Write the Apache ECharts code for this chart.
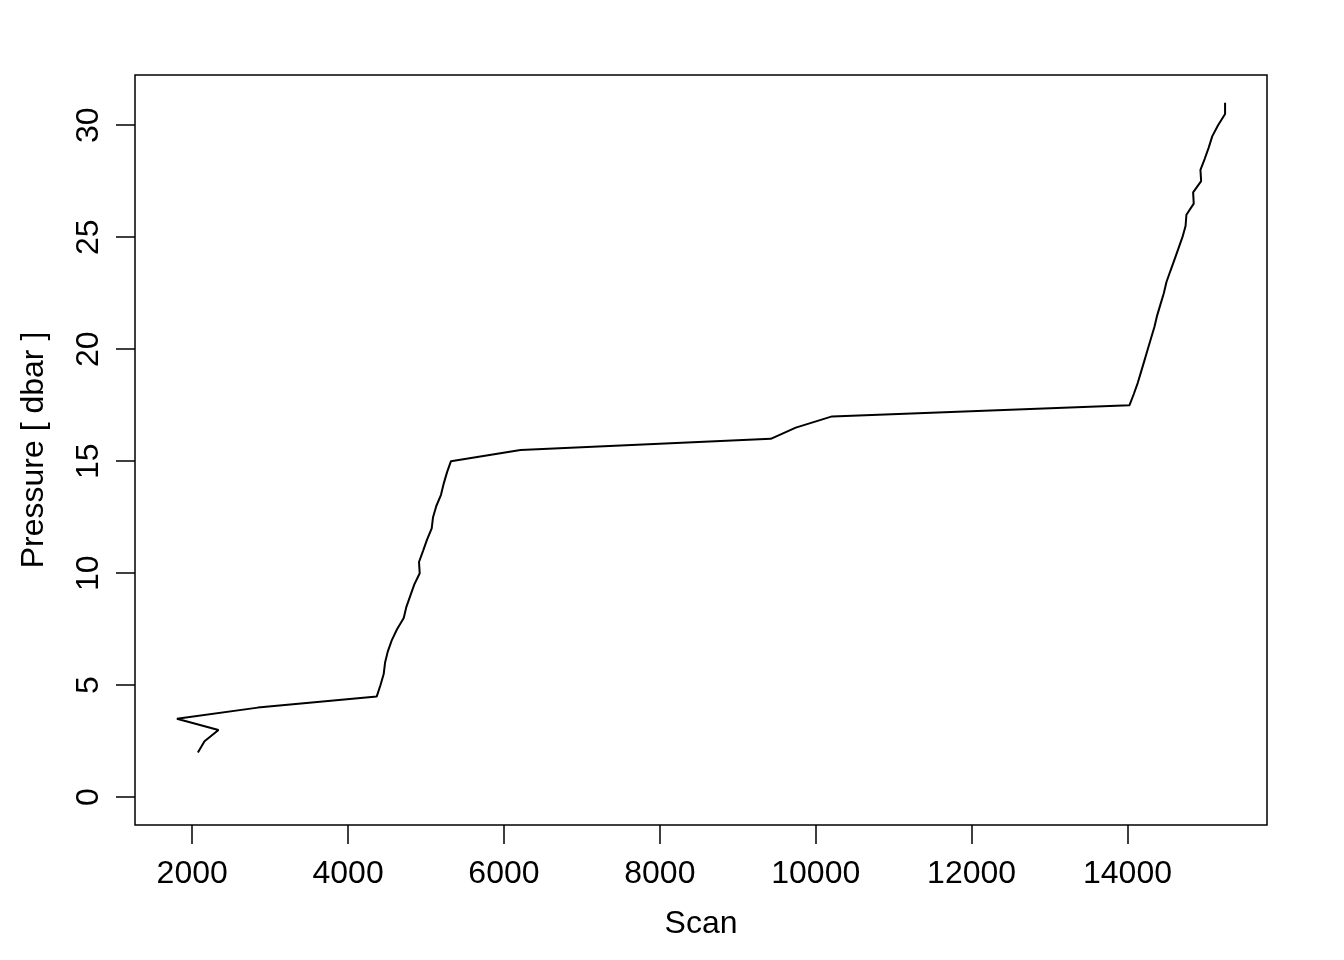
<!DOCTYPE html>
<html>
<head>
<meta charset="utf-8">
<script src="https://cdn.jsdelivr.net/npm/echarts@6/dist/echarts.min.js"></script>
<style>
html,body{margin:0;padding:0;background:#fff;}
#chart{width:1344px;height:960px;}
</style>
</head>
<body>
<div id="chart"></div>
<script>
const pressure = [2.0, 2.5, 3.0, 3.5, 4.0, 4.5, 5.0, 5.5, 6.0, 6.5, 7.0, 7.5, 8.0, 8.5, 9.0, 9.5,
  10.0, 10.5, 11.0, 11.5, 12.0, 12.5, 13.0, 13.5, 14.0, 14.5, 15.0, 15.5, 16.0, 16.5, 17.0, 17.5,
  18.0, 18.5, 19.0, 19.5, 20.0, 20.5, 21.0, 21.5, 22.0, 22.5, 23.0, 23.5, 24.0, 24.5, 25.0, 25.5,
  26.0, 26.5, 27.0, 27.5, 28.0, 28.5, 29.0, 29.5, 30.0, 30.5, 31.0];
const scan = [2073, 2158, 2337, 1804, 2842, 4368, 4415, 4457, 4474, 4509, 4560, 4628, 4714, 4748, 4799, 4850,
  4919, 4910, 4962, 5013, 5073, 5090, 5132, 5192, 5227, 5269, 5320, 6212, 9423, 9744, 10210, 14026,
  14081, 14132, 14175, 14218, 14260, 14303, 14346, 14380, 14423, 14466, 14500, 14551, 14603, 14654, 14705, 14745,
  14756, 14850, 14842, 14945, 14936, 14991, 15042, 15087, 15162, 15252, 15252];
const xTicks = [2000, 4000, 6000, 8000, 10000, 12000, 14000];
const yTicks = [0, 5, 10, 15, 20, 25, 30];
const xLabel = 'Scan';
const yLabel = 'Pressure [ dbar ]';

const chart = echarts.init(document.getElementById('chart'), null, {renderer: 'canvas'});
const font = '"Liberation Sans", Arial, Helvetica, sans-serif';
const pts = scan.map((s, i) => [s, pressure[i]]);
const xr = Math.max(...scan) - Math.min(...scan);
const yMax = Math.max(...pressure);

chart.setOption({
  animation: false,
  backgroundColor: '#ffffff',
  grid: {left: 135, right: 77, top: 75, bottom: 135, show: true, borderColor: '#000', borderWidth: 1.5, backgroundColor: 'transparent'},
  xAxis: {
    type: 'value',
    min: Math.min(...scan) - 0.04 * xr,
    max: Math.max(...scan) + 0.04 * xr,
    name: xLabel, nameLocation: 'middle', nameGap: 83,
    nameTextStyle: {fontFamily: font, fontSize: 32, color: '#000'},
    axisLine: {show: false, onZero: false},
    splitLine: {show: false},
    axisTick: {show: true, inside: false, length: 19, customValues: xTicks, lineStyle: {color: '#000', width: 1.5}},
    axisLabel: {customValues: xTicks, margin: 33, fontFamily: font, fontSize: 32, color: '#000', formatter: v => String(v)}
  },
  yAxis: {
    type: 'value',
    min: 0 - 0.04 * yMax,
    max: yMax + 0.04 * yMax,
    name: yLabel, nameLocation: 'middle', nameGap: 85,
    nameTextStyle: {fontFamily: font, fontSize: 32, color: '#000'},
    axisLine: {show: false, onZero: false},
    splitLine: {show: false},
    axisTick: {show: true, inside: false, length: 19, customValues: yTicks, lineStyle: {color: '#000', width: 1.5}},
    axisLabel: {customValues: yTicks, rotate: 90, margin: 30, fontFamily: font, fontSize: 32, color: '#000', formatter: v => String(v)}
  },
  series: [{
    type: 'line',
    data: pts,
    showSymbol: false,
    symbol: 'none',
    lineStyle: {color: '#000', width: 2},
    silent: true
  }]
});
</script>
</body>
</html>
